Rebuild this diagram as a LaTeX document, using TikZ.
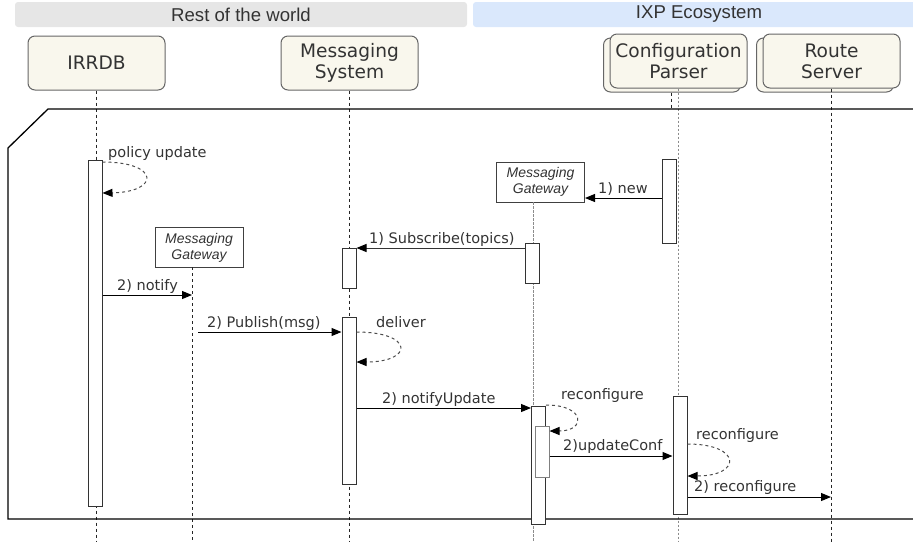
\documentclass[tikz,border=0pt]{standalone}
\usepackage{fontspec}
\setmainfont{DejaVu Sans}
\newfontfamily\arialfont{Liberation Sans}
\usetikzlibrary{arrows.meta}

\definecolor{headfill}{HTML}{F9F7ED}
\definecolor{headline}{HTML}{666666}
\definecolor{txt}{HTML}{333333}
\definecolor{greyband}{HTML}{E6E6E6}
\definecolor{blueband}{HTML}{DAE8FC}

\tikzset{
  band/.style={rounded corners=3pt, minimum width=452pt, minimum height=25pt, inner sep=0pt,
    font=\arialfont\fontsize{18.6}{20}\selectfont, text=txt},
  head/.style={draw=headline, fill=headfill, rounded corners=7pt, minimum width=137pt,
    minimum height=54pt, inner sep=0pt, align=center, line width=1pt,
    font=\fontsize{18.6}{21}\selectfont, text=txt},
  gate/.style={draw=black!75, fill=white, line width=1pt, align=center, inner sep=0pt,
    minimum width=88pt, minimum height=40pt, text=txt,
    font=\arialfont\itshape\fontsize{14}{16}\selectfont},
  bar/.style={draw=black!80, fill=white, minimum width=14pt, inner sep=0pt, line width=1pt},
  life/.style={dash pattern=on 3pt off 3pt, line width=1pt, draw=black!85},
  lifegrey/.style={dash pattern=on 2.5pt off 1.5pt, line width=1pt, draw=black!45},
  msg/.style={-{Triangle[length=10pt,width=8pt,color=black]}, line width=1pt, draw=black},
  selfmsg/.style={msg, draw=black!70, dash pattern=on 3pt off 3pt},
  lbl/.style={font=\fontsize{14.5}{16}\selectfont, text=txt, inner sep=0pt, anchor=base west},
}

\begin{document}
\begin{tikzpicture}[x=1pt,y=-1pt]
\useasboundingbox (0,0) rectangle (913,542);

% swimlane headers
\node[band, fill=greyband] (rest) at (241,14.5) {Rest of the world};
\node[band, fill=blueband] (ixp) at (699,14.5) {IXP Ecosystem};

% lifeline heads
\node[head] (irrdb) at (96.5,63) {IRRDB};
\node[head] (msys) at (349.5,63) {Messaging\\System};
\node[head] (cpback) at (672,65) {\phantom{X}};
\node[head] (cparser) at (678.5,61) {Configuration\\Parser};
\node[head] (rsback) at (825,65) {\phantom{X}};
\node[head] (rserver) at (831.5,61) {Route\\Server};

% gateway objects created during the interaction
\node[gate] (gwleft) at (199,247.5) {Messaging\\Gateway};
\node[gate] (gwright) at (540.5,182) {Messaging\\Gateway};

% lifeline ends
\coordinate (irrEnd) at (96,542);
\coordinate (msEnd) at (349,542);
\coordinate (gwlTop) at (192,267);
\coordinate (gwlEnd) at (192,542);
\coordinate (gwrTop) at (533,202);
\coordinate (gwrEnd) at (533,542);
\coordinate (cpbEnd) at (671,109);
\coordinate (cpEnd) at (678,542);
\coordinate (rsEnd) at (831,542);

% lifelines
\draw[life] (irrdb.south -| irrEnd) -- (irrEnd);
\draw[life] (msys.south -| msEnd) -- (msEnd);
\draw[life] (gwlTop) -- (gwlEnd);
\draw[lifegrey] (gwrTop) -- (gwrEnd);
\draw[life] (cpback.south -| cpbEnd) -- (cpbEnd);
\draw[lifegrey] (cparser.south -| cpEnd) -- (cpEnd);
\draw[life] (rserver.south -| rsEnd) -- (rsEnd);

% combined fragment frame
\draw[line width=1.3pt] (925,109) -- (48,109) -- (8,148) -- (8,519) -- (925,519);

% activation bars
\node[bar, minimum height=346pt] (irrbar) at (95,333) {};
\node[bar, minimum height=40pt] (msbarA) at (349,268) {};
\node[bar, minimum height=167pt] (msbarB) at (349,400.5) {};
\node[bar, minimum height=40pt] (gwbarA) at (532,263) {};
\node[bar, minimum height=118pt] (gwbarB) at (538.5,465) {};
\node[bar, draw=black!50, minimum height=51pt] (gwbarC) at (542,451.5) {};
\node[bar, minimum height=84pt] (cpbarA) at (669,201) {};
\node[bar, minimum height=118pt] (cpbarB) at (680,455) {};

% self messages
\draw[selfmsg] (irrbar.east |- 0,162) .. controls (160,162) and (160,192) .. (irrbar.east |- 0,193);
\node[lbl] (lpolicy) at (108,157) {policy update};

\draw[selfmsg] (msbarB.east |- 0,332) .. controls (414,332) and (414,362) .. (msbarB.east |- 0,362);
\node[lbl] (ldeliver) at (376,327) {deliver};

\draw[selfmsg] (gwbarB.east |- 0,405) .. controls (586,405) and (586,431) .. (gwbarC.east |- 0,431);
\node[lbl] (lreconfA) at (561,399) {reconfigure};

\draw[selfmsg] (cpbarB.east |- 0,444) .. controls (742,444) and (742,476) .. (cpbarB.east |- 0,476);
\node[lbl] (lreconfB) at (696,439) {reconfigure};

% creation and subscription
\draw[msg] (cpbarA.west |- 0,198) -- (gwright.east |- 0,198);
\node[lbl] (lnew) at (598,193) {1) new};

\draw[msg, draw=black!80] (gwbarA.west |- 0,248) -- (msbarA.east |- 0,248);
\node[lbl] (lsub) at (369,243) {1) Subscribe(topics)};

% notification chain
\draw[msg] (irrbar.east |- 0,295) -- (gwlTop |- 0,295);
\node[lbl] (lnotify) at (117,290) {2) notify};

\draw[msg] (198,332) -- (msbarB.west |- 0,332);
\node[lbl] (lpublish) at (207,327) {2) Publish(msg)};

\draw[msg] (msbarB.east |- 0,408) -- (gwbarB.west |- 0,408);
\node[lbl] (lnotifyup) at (382,403) {2) notifyUpdate};

\draw[msg] (gwbarC.east |- 0,456) -- (cpbarB.west |- 0,456);
\node[lbl] (lupdconf) at (563,450) {2)updateConf};

\draw[msg] (cpbarB.east |- 0,497) -- (rsEnd |- 0,497);
\node[lbl] (lreconfC) at (694,491) {2) reconfigure};
\end{tikzpicture}
\end{document}
